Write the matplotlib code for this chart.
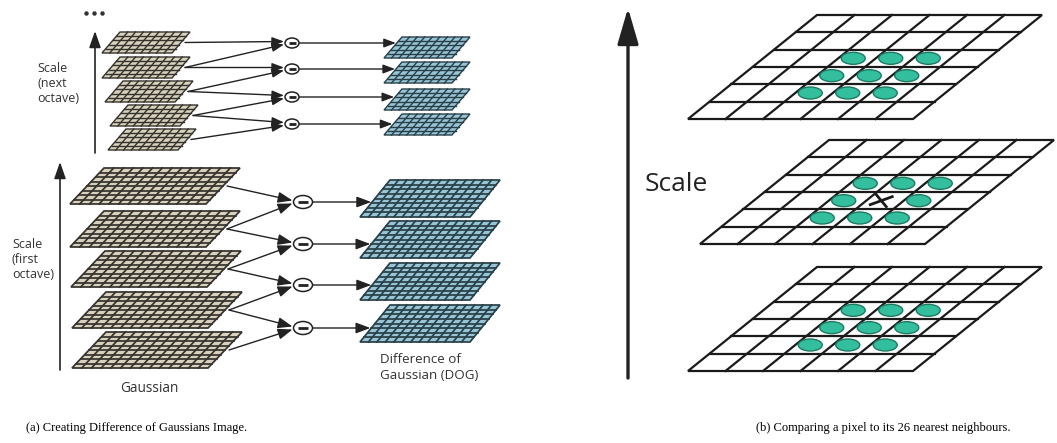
import matplotlib.pyplot as plt
from matplotlib.patches import Polygon, Ellipse

# --- pyramid layout (pixel units, y grows downward) ---
# first octave gaussian planes, top to bottom: bottom edge y
g1_bottom = [204, 247, 287, 328, 368]
g1_x0 = [70, 70, 71, 72, 72]
# next octave gaussian planes
g2_bottom = [53, 78, 102, 126, 150]
g2_x0 = [102, 102, 105, 110, 108]
# difference-of-gaussian planes
d1_bottom = [217, 258, 300, 342]
d2_bottom = [58, 83, 110, 135]
# subtraction nodes
m1_y = [202, 244, 285, 328]
m2_y = [43, 69, 97, 124]

# neighbour comparison planes (top y of each)
nb_top = [15, 140, 267]
nb_x0 = [688, 700, 688]
nb_cells = 6
nb_block = [2, 3, 4]          # rows/cols holding the 3x3 neighbourhood
centre_cell = (3, 3)

G_FACE, G_EDGE = '#d9d1bd', '#34322c'
D_FACE, D_EDGE = '#98c5d6', '#283f48'
TEAL, TEAL_EDGE = '#33bf9e', '#1d7a62'
SANS = 'Open Sans'


def plane(ax, x0, yb, w, h, skew, ncols, nrows, face, edge, lw):
    corners = [(x0, yb), (x0 + w, yb), (x0 + w + skew, yb - h), (x0 + skew, yb - h)]
    ax.add_patch(Polygon(corners, closed=True, facecolor=face, edgecolor=edge,
                         lw=lw, joinstyle='miter', zorder=2))
    for i in range(1, ncols):
        xs = x0 + i * w / ncols
        ax.plot([xs, xs + skew], [yb, yb - h], color=edge, lw=lw, zorder=3)
    for j in range(1, nrows):
        t = j / nrows
        ax.plot([x0 + skew * t, x0 + skew * t + w], [yb - h * t] * 2,
                color=edge, lw=lw, zorder=3)


def cell_centre(x0, yb, w, h, skew, n, col, row):
    t = 1 - (row + 0.5) / n
    return x0 + skew * t + (col + 0.5) * w / n, yb - h * t


def arrow(ax, p0, p1, lw=1.0, ms=10, hl=0.8, hw=0.3):
    ax.annotate('', xy=p1, xytext=p0,
                arrowprops=dict(arrowstyle=f'-|>,head_length={hl},head_width={hw}',
                                lw=lw, color='#222222', mutation_scale=ms,
                                shrinkA=0, shrinkB=0), zorder=5)


def minus(ax, cx, cy, w, h):
    ax.add_patch(Ellipse((cx, cy), w, h, facecolor='white', edgecolor='#222222',
                         lw=1.1, zorder=6))
    ax.plot([cx - w * 0.25, cx + w * 0.25], [cy, cy], color='#222222',
            lw=2.0, zorder=7, solid_capstyle='butt')


def octave(ax, g_bottom, g_x0, gw, gh, gskew, gcells,
           d_bottom, dx0, dw, dh, dskew, dcells, m_x, m_y, mw, mh, lw, ms):
    for yb, x0 in zip(g_bottom, g_x0):
        plane(ax, x0, yb, gw, gh, gskew, gcells[0], gcells[1], G_FACE, G_EDGE, lw)
    for yb in d_bottom:
        plane(ax, dx0, yb, dw, dh, dskew, dcells[0], dcells[1], D_FACE, D_EDGE, lw)
    for j, cy in enumerate(m_y):
        minus(ax, m_x, cy, mw, mh)
        # two neighbouring gaussians feed each subtraction
        for i, dy in ((j, -1.5), (j + 1, 1.5)):
            yb, x0 = g_bottom[i], g_x0[i]
            start = (x0 + gw + gskew / 2 + 4, yb - gh / 2)
            arrow(ax, start, (m_x - mw / 2 - 1, cy + dy), ms=ms)
        yb = d_bottom[j]
        t = (yb - cy) / dh
        arrow(ax, (m_x + mw / 2, cy), (dx0 + dskew * t - 1, cy), ms=ms)


fig = plt.figure(figsize=(10.57, 4.43), dpi=100)
ax = fig.add_axes([0, 0, 1, 1])
ax.set_xlim(0, 1057)
ax.set_ylim(443, 0)
ax.axis('off')

# (a) difference of gaussians
octave(ax, g1_bottom, g1_x0, 136, 36, 34, (14, 8),
       d1_bottom, 360, 110, 37, 30, (13, 8), 303, m1_y, 19, 13, 1.25, 11)
octave(ax, g2_bottom, g2_x0, 70, 21, 18, (9, 5),
       d2_bottom, 384, 68, 21, 18, (9, 5), 292, m2_y, 14, 10, 1.0, 9)

arrow(ax, (60, 370), (60, 162), lw=1.2, ms=10, hl=1.0, hw=0.35)
arrow(ax, (95, 153), (95, 31), lw=1.2, ms=10, hl=1.0, hw=0.35)
ax.plot([86, 94, 102], [13, 13, 13], 'o', color='#333333', ms=2.2)

ax.text(37, 62, 'Scale\n(next\noctave)', fontsize=9, family=SANS, color='#333333',
        va='top', linespacing=1.2)
ax.text(12, 238, 'Scale\n(first\noctave)', fontsize=9, family=SANS, color='#333333',
        va='top', linespacing=1.2)
ax.text(120, 388, 'Gaussian', fontsize=9.8, family=SANS, color='#333333', va='center')
ax.text(380, 353, 'Difference of\nGaussian (DOG)', fontsize=9.6, family=SANS,
        color='#333333', va='top', linespacing=1.3)

# (b) 26-neighbour comparison across scales
arrow(ax, (628, 378), (628, 8), lw=2.4, ms=20, hl=1.1, hw=0.32)
ax.text(645, 191, 'Scale', fontsize=19, family=SANS, color='#222222')

NW, NH, NSKEW = 225, 104, 129
for k, (top, x0) in enumerate(zip(nb_top, nb_x0)):
    yb = top + NH
    plane(ax, x0, yb, NW, NH, NSKEW, nb_cells, nb_cells, 'white', '#1a1a1a', 1.6)
    for r in nb_block:
        for c in nb_block:
            cx, cy = cell_centre(x0, yb, NW, NH, NSKEW, nb_cells, c - 0.1, r)
            if k == 1 and (c, r) == centre_cell:
                ax.plot([cx - 11, cx + 11], [cy + 4, cy - 4], color='#1a1a1a', lw=2, zorder=6)
                ax.plot([cx - 5, cx + 5], [cy - 6, cy + 6], color='#1a1a1a', lw=2, zorder=6)
                continue
            ax.add_patch(Ellipse((cx, cy), 24, 12, facecolor=TEAL,
                                 edgecolor=TEAL_EDGE, lw=1.0, zorder=6))

ax.text(137, 428, '(a) Creating Difference of Gaussians Image.', fontsize=9,
        family='Liberation Serif', ha='center', va='center')
ax.text(883, 428, '(b) Comparing a pixel to its 26 nearest neighbours.', fontsize=9,
        family='Liberation Serif', ha='center', va='center')

fig.savefig('out.png', dpi=100, facecolor='white')
